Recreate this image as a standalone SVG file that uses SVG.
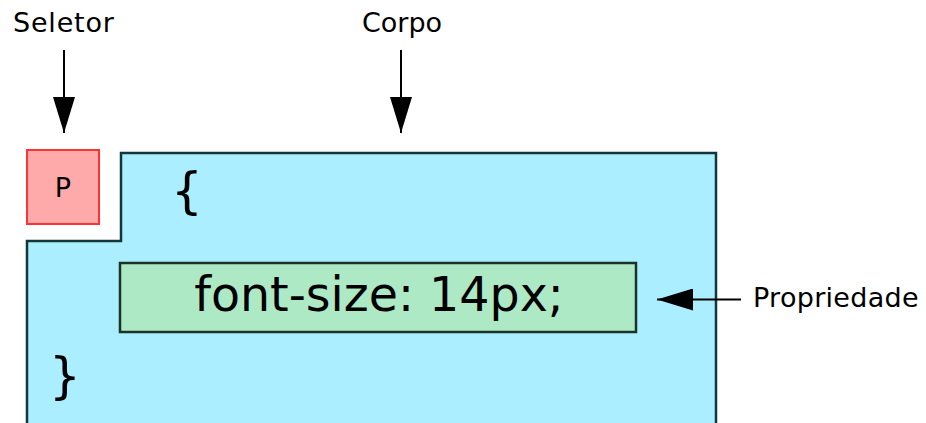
<svg xmlns="http://www.w3.org/2000/svg" width="926" height="423" viewBox="0 0 926 423">
  <style>
    .label { font-family: "DejaVu Sans", Verdana, sans-serif; font-size: 27px; fill: #000; }
    .code { font-family: "DejaVu Sans", Verdana, sans-serif; fill: #000; }
    .arrow { stroke: #000; stroke-width: 2; fill: none; marker-end: url(#head); }
  </style>
  <defs>
    <marker id="head" markerUnits="userSpaceOnUse" markerWidth="36" markerHeight="22" refX="36" refY="11" orient="auto">
      <path d="M0,0 L36,11 L0,22 Z" fill="#000"/>
    </marker>
  </defs>
  <rect width="926" height="423" fill="#fff"/>

  <!-- declaration block body -->
  <g id="corpo-bloco">
    <path d="M27,425 L27,241 L121,241 L121,153 L716,153 L716,425" fill="#aaeeff" stroke="#12373a" stroke-width="2.5"/>
    <text class="code" x="171" y="208" font-size="50">{</text>
    <text class="code" x="49" y="393" font-size="50">}</text>
  </g>

  <!-- selector box -->
  <g id="seletor-box">
    <rect x="27" y="150" width="72" height="74" fill="#ffaaaa" stroke="#ff3333" stroke-width="2"/>
    <text class="code" x="63" y="197" font-size="27" text-anchor="middle">P</text>
  </g>

  <!-- property declaration -->
  <g id="propriedade-box">
    <rect x="120" y="263" width="516" height="69" fill="#aee9c6" stroke="#1a3324" stroke-width="2.5"/>
    <text class="code" x="379" y="311" font-size="47.5" text-anchor="middle">font-size: 14px;</text>
  </g>

  <!-- captions -->
  <g id="rotulo-seletor"><text class="label" x="13" y="32" letter-spacing="0.8">Seletor</text></g>
  <g id="rotulo-corpo"><text class="label" x="402" y="32" text-anchor="middle">Corpo</text></g>
  <g id="rotulo-propriedade"><text class="label" x="753" y="307" letter-spacing="0.3">Propriedade</text></g>

  <!-- connectors -->
  <g id="conectores">
    <line class="arrow" x1="64" y1="50" x2="64" y2="133"/>
    <line class="arrow" x1="401" y1="50" x2="401" y2="133"/>
    <line class="arrow" x1="741" y1="299.5" x2="657" y2="299.5"/>
  </g>
</svg>
